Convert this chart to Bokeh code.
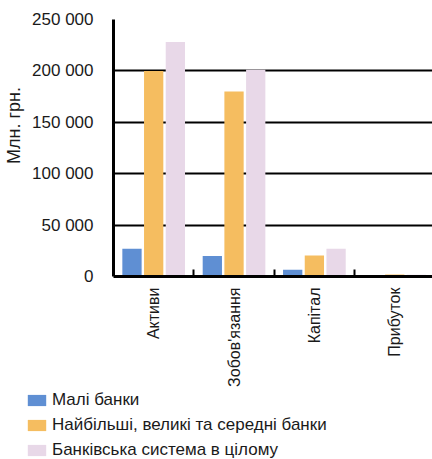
from bokeh.plotting import figure
from bokeh.models import ColumnDataSource, FixedTicker, Range1d, Legend, LegendItem
from bokeh.layouts import column
from bokeh.embed import file_html
from bokeh.resources import INLINE
import numpy as np

categories = ["Активи", "Зобов'язання", "Капітал", "Прибуток"]
series_names = ["Малі банки", "Найбільші, великі та середні банки", "Банківська система в цілому"]
small_banks = [27000, 20000, 6500, 600]
large_banks = [200000, 180000, 20400, 2000]
whole_system = [228000, 201000, 27000, 1600]
y_ticks = [0, 50000, 100000, 150000, 200000, 250000]
y_tick_labels = ["0", "50 000", "100 000", "150 000", "200 000", "250 000"]
colors = ["#5f8fd3", "#f5bd60", "#e8d8e8"]

FONT = "Liberation Sans"
TXT = "#1a1a1a"

p = figure(width=432, height=389, output_backend="svg", toolbar_location=None,
           x_range=Range1d(0, 3.97), y_range=Range1d(0, 250000),
           min_border_left=113, min_border_right=0, min_border_top=19,
           min_border_bottom=113)
p.outline_line_color = None
p.background_fill_color = "white"
p.border_fill_color = "white"

centers = np.arange(len(categories)) + 0.5
offsets = [-0.27, 0.0, 0.27]
bw = 0.24
sources = []
for vals, off, col in zip([small_banks, large_banks, whole_system], offsets, colors):
    src = ColumnDataSource(dict(x=centers + off, top=vals))
    sources.append(src)
    p.vbar(x="x", top="top", width=bw, bottom=0, source=src,
           fill_color=col, line_color=None)

# x axis
p.xaxis.ticker = FixedTicker(ticks=list(centers), minor_ticks=[1, 2, 3])
p.xaxis.major_label_overrides = {float(c): n for c, n in zip(centers, categories)}
p.xaxis.major_label_orientation = np.pi / 2
p.xaxis.major_tick_line_color = None
p.xaxis.minor_tick_in = 7
p.xaxis.minor_tick_out = 0
p.xaxis.minor_tick_line_width = 2
p.xaxis.minor_tick_line_color = "black"
p.xaxis.axis_line_width = 3
p.xaxis.axis_line_color = "black"
p.xaxis.major_label_standoff = 5
p.xaxis.major_label_text_font = FONT
p.xaxis.major_label_text_font_size = "16px"
p.xaxis.major_label_text_color = TXT

# y axis
p.yaxis.ticker = FixedTicker(ticks=y_ticks)
p.yaxis.major_label_overrides = {t: l for t, l in zip(y_ticks, y_tick_labels)}
p.yaxis.major_tick_line_color = None
p.yaxis.minor_tick_line_color = None
p.yaxis.axis_line_width = 3
p.yaxis.axis_line_color = "black"
p.yaxis.major_label_standoff = 14
p.yaxis.major_label_text_font = FONT
p.yaxis.major_label_text_font_size = "17px"
p.yaxis.major_label_text_color = TXT
p.yaxis.axis_label = "\u00a0" * 9 + "Млн. грн."
p.yaxis.axis_label_text_font = FONT
p.yaxis.axis_label_text_font_size = "18px"
p.yaxis.axis_label_text_font_style = "normal"
p.yaxis.axis_label_text_color = TXT
p.yaxis.axis_label_standoff = 5

p.xgrid.grid_line_color = None
p.ygrid.ticker = FixedTicker(ticks=y_ticks)
p.ygrid.grid_line_color = "black"
p.ygrid.grid_line_width = 2

# legend panel (its bars lie outside its visible range; only the legend shows)
p2 = figure(width=432, height=70, output_backend="svg", toolbar_location=None,
            x_range=Range1d(-10, -9), y_range=Range1d(0, 1),
            x_axis_location=None, y_axis_location=None,
            min_border_left=0, min_border_right=0, min_border_top=0, min_border_bottom=0)
p2.grid.visible = False
p2.outline_line_color = None
p2.background_fill_color = "white"
p2.border_fill_color = "white"
for fig in (p, p2):
    if "frame_align" in fig.properties():
        fig.frame_align = False
items = []
for n, col, src in zip(series_names, colors, sources):
    r = p2.vbar(x="x", top="top", width=bw, bottom=0, source=src,
                fill_color=col, line_color=None)
    items.append(LegendItem(label=n, renderers=[r]))
legend = Legend(items=items, location=(25, -2), orientation="vertical",
                glyph_width=23, glyph_height=14, label_height=22, spacing=3,
                padding=0, margin=0, label_standoff=4,
                label_text_font=FONT, label_text_font_size="17px", label_text_color=TXT,
                border_line_color=None, background_fill_alpha=0)
p2.add_layout(legend, "center")

layout = column(p, p2, spacing=0)
open("out.html", "w").write(file_html(layout, INLINE))
